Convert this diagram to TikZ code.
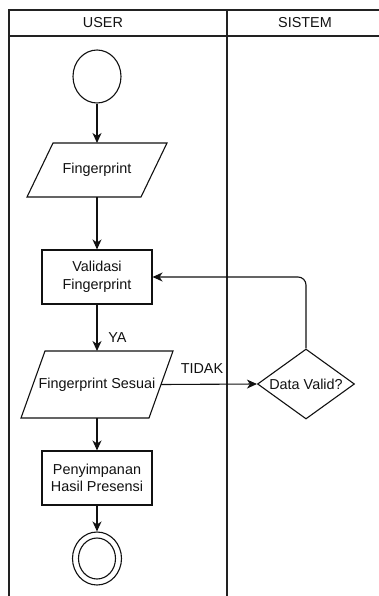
\documentclass[tikz,border=0pt]{standalone}
\usepackage{fontspec}
\setmainfont{Liberation Sans}
\usepackage{tikz}
\usetikzlibrary{shapes.geometric,arrows.meta}
\definecolor{ink}{HTML}{111111}
\definecolor{lane}{HTML}{222222}
\tikzset{
  lanebox/.style={draw=lane, line width=1.1pt},
  arr/.style={draw=ink, line width=1.1pt, -{Stealth[length=10pt,width=9pt,inset=3pt]}},
  startnode/.style={ellipse, draw=ink, line width=1.1pt, minimum width=48pt, minimum height=53pt, inner sep=0pt},
  iobox/.style={rectangle, inner sep=0pt, outer sep=0pt, align=center},
  procbox/.style={rectangle, draw=ink, line width=1.1pt, minimum width=110pt, minimum height=54pt, inner sep=0pt, align=center},
  decbox/.style={diamond, draw=ink, line width=1.1pt, shape aspect=1.39, minimum width=97pt, minimum height=70pt, inner sep=0pt},
  slantline/.style={draw=ink, line width=1.1pt, line join=miter},
  lbl/.style={text=ink, font=\fontsize{14.4}{17.5}\selectfont}
}
% outline of an input box round node #1, slanted by #2 on each side
\newcommand\slantbox[2]{%
  \draw[slantline] ([xshift=#2]#1.north west) -- ([xshift=#2]#1.north east)
    -- ([xshift=-#2]#1.south east) -- ([xshift=-#2]#1.south west) -- cycle;}

\begin{document}
\begin{tikzpicture}[x=1pt, y=-1pt]
  \useasboundingbox (0,0) rectangle (379,596);
  \clip (0,0) rectangle (379,596);

  % swimlanes
  \draw[lanebox] (9,10) rectangle (390,610);
  \draw[lanebox] (9,36) -- (390,36);
  \draw[lanebox] (227,10) -- (227,610);
  \node[lbl] (user) at (103,23) {USER};
  \node[lbl] (sistem) at (305,23) {SISTEM};

  % user lane
  \node[startnode] (start) at (97,76.5) {};
  \node[iobox, lbl, minimum width=114pt, minimum height=54pt] (finger) at (97,170) {Fingerprint};
  \slantbox{finger}{13pt}
  \node[procbox, lbl] (validasi) at (97,277) {Validasi\\Fingerprint};
  \node[iobox, lbl, minimum width=128pt, minimum height=67pt] (sesuai) at (97,384.5) {Fingerprint Sesuai};
  \slantbox{sesuai}{12pt}
  \node[procbox, lbl] (simpan) at (97,478) {Penyimpanan\\Hasil Presensi};
  \node[startnode, minimum width=49pt] (finish) at (97,558.5) {};
  \node[startnode, minimum width=37pt, minimum height=41pt] (finishin) at (finish.center) {};

  % sistem lane
  \node[decbox, lbl] (valid) at (306,384) {Data Valid?};

  \draw[arr] (start) -- (finger);
  \draw[arr] (finger) -- (validasi);
  \draw[arr] (validasi) -- (sesuai);
  \draw[arr] (sesuai) -- (simpan);
  \draw[arr] (simpan) -- (finish);
  \draw[arr] (sesuai.east) -- (valid.west);
  \draw[arr, rounded corners=8pt] (valid.north) |- (validasi.east);

  \node[lbl] (ya) at (117.5,338) {YA};
  \node[lbl] (tidak) at (202,369) {TIDAK};
\end{tikzpicture}
\end{document}
